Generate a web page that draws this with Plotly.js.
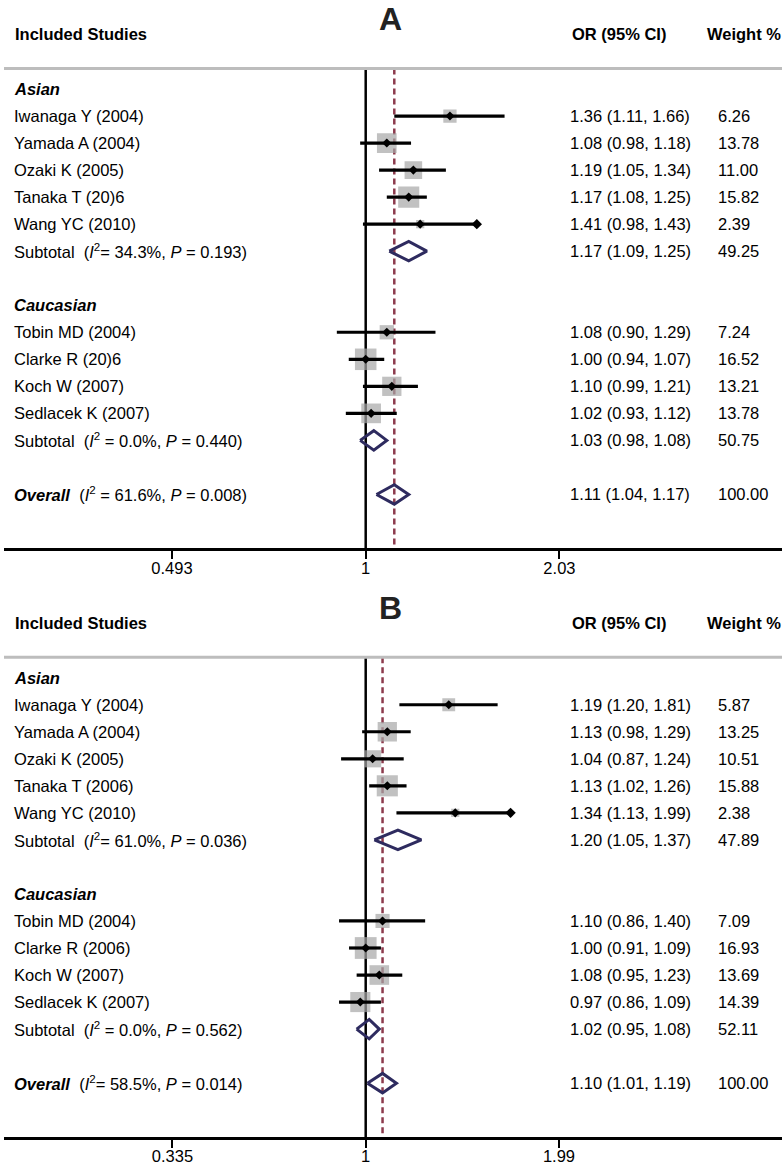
<!DOCTYPE html>
<html><head><meta charset="utf-8">
<script src="https://cdn.plot.ly/plotly-3.0.1.min.js"></script>
<style>html,body{margin:0;padding:0;background:#fff}#chart{width:782px;height:1167px}</style>
</head><body><div id="chart"></div>
<script>
// ===================== DATA =====================
const panelTitles = ['A', 'B'];
const headerCols = ['Included Studies', 'OR (95% CI)', 'Weight %'];
const groupNames = ['Asian', 'Caucasian'];

// ---- Panel A ----
const studiesA_asian = ['Iwanaga Y (2004)', 'Yamada A (2004)', 'Ozaki K (2005)', 'Tanaka T (20)6', 'Wang YC (2010)'];
const orA_asian = [1.36, 1.08, 1.19, 1.17, 1.22];
const loA_asian = [1.11, 0.98, 1.05, 1.08, 0.99];
const hiA_asian = [1.66, 1.18, 1.34, 1.25, 1.50];
const weightA_asian = [6.26, 13.78, 11.00, 15.82, 2.39];
const ciTextA_asian = ['1.36 (1.11, 1.66)', '1.08 (0.98, 1.18)', '1.19 (1.05, 1.34)', '1.17 (1.08, 1.25)', '1.41 (0.98, 1.43)'];
const wTextA_asian = ['6.26', '13.78', '11.00', '15.82', '2.39'];

const studiesA_cauc = ['Tobin MD (2004)', 'Clarke R (20)6', 'Koch W (2007)', 'Sedlacek K (2007)'];
const orA_cauc = [1.08, 1.00, 1.10, 1.02];
const loA_cauc = [0.90, 0.94, 0.99, 0.93];
const hiA_cauc = [1.29, 1.07, 1.21, 1.12];
const weightA_cauc = [7.24, 16.52, 13.21, 13.78];
const ciTextA_cauc = ['1.08 (0.90, 1.29)', '1.00 (0.94, 1.07)', '1.10 (0.99, 1.21)', '1.02 (0.93, 1.12)'];
const wTextA_cauc = ['7.24', '16.52', '13.21', '13.78'];

const subOrA = [1.17, 1.03];
const subLoA = [1.09, 0.98];
const subHiA = [1.25, 1.08];
const subStatA = ['(<i>I</i><sup>2</sup>= 34.3%, <i>P</i> = 0.193)', '(<i>I</i><sup>2</sup> = 0.0%, <i>P</i> = 0.440)'];
const subCiTextA = ['1.17 (1.09, 1.25)', '1.03 (0.98, 1.08)'];
const subWTextA = ['49.25', '50.75'];

const overallA = [1.11, 1.04, 1.17]; // OR, low, high
const overallStatA = '(<i>I</i><sup>2</sup> = 61.6%, <i>P</i> = 0.008)';
const overallCiTextA = '1.11 (1.04, 1.17)';
const overallWTextA = '100.00';
const tickValsA = [0.493, 1, 2.028];
const tickTextA = ['0.493', '1', '2.03'];

// ---- Panel B ----
const studiesB_asian = ['Iwanaga Y (2004)', 'Yamada A (2004)', 'Ozaki K (2005)', 'Tanaka T (2006)', 'Wang YC (2010)'];
const orB_asian = [1.60, 1.13, 1.04, 1.13, 1.66];
const loB_asian = [1.21, 0.98, 0.87, 1.02, 1.19];
const hiB_asian = [2.11, 1.29, 1.24, 1.26, 2.27];
const weightB_asian = [5.87, 13.25, 10.51, 15.88, 2.38];
const ciTextB_asian = ['1.19 (1.20, 1.81)', '1.13 (0.98, 1.29)', '1.04 (0.87, 1.24)', '1.13 (1.02, 1.26)', '1.34 (1.13, 1.99)'];
const wTextB_asian = ['5.87', '13.25', '10.51', '15.88', '2.38'];

const studiesB_cauc = ['Tobin MD (2004)', 'Clarke R (2006)', 'Koch W (2007)', 'Sedlacek K (2007)'];
const orB_cauc = [1.10, 1.00, 1.08, 0.97];
const loB_cauc = [0.86, 0.91, 0.95, 0.86];
const hiB_cauc = [1.40, 1.09, 1.23, 1.09];
const weightB_cauc = [7.09, 16.93, 13.69, 14.39];
const ciTextB_cauc = ['1.10 (0.86, 1.40)', '1.00 (0.91, 1.09)', '1.08 (0.95, 1.23)', '0.97 (0.86, 1.09)'];
const wTextB_cauc = ['7.09', '16.93', '13.69', '14.39'];

const subOrB = [1.20, 1.02];
const subLoB = [1.05, 0.95];
const subHiB = [1.37, 1.08];
const subStatB = ['(<i>I</i><sup>2</sup>= 61.0%, <i>P</i> = 0.036)', '(<i>I</i><sup>2</sup> = 0.0%, <i>P</i> = 0.562)'];
const subCiTextB = ['1.20 (1.05, 1.37)', '1.02 (0.95, 1.08)'];
const subWTextB = ['47.89', '52.11'];

const overallB = [1.10, 1.01, 1.19];
const overallStatB = '(<i>I</i><sup>2</sup>= 58.5%, <i>P</i> = 0.014)';
const overallCiTextB = '1.10 (1.01, 1.19)';
const overallWTextB = '100.00';
const tickValsB = [0.335, 1, 2.985];
const tickTextB = ['0.335', '1', '1.99'];

// Study whose CI end is drawn with an arrow-like marker
const arrowStudy = 'Wang YC (2010)';

// ===================== LAYOUT CONSTANTS =====================
const W = 782, H = 1167;
const FONT = 'Liberation Sans, Arial, Helvetica, sans-serif';
const FS = 16.5;
const px = x => x / W;
const py = y => 1 - y / H;
const PANEL_SHIFT = 588.7;
const TOP_LINE = 68.5, AXIS_LINE = 548.3, ROW0 = 89, PITCH = 27.03;
const X_LEFT = 4, X_ONE = 365.7;
const rowTop = (TOP_LINE - ROW0) / PITCH;
const rowBottom = (AXIS_LINE - ROW0) / PITCH;

const panels = [
  { title: panelTitles[0], pxPerLn: 274, tickVals: tickValsA, tickText: tickTextA,
    groups: [
      { names: studiesA_asian, or: orA_asian, lo: loA_asian, hi: hiA_asian, w: weightA_asian, ci: ciTextA_asian, wt: wTextA_asian,
        sub: [subOrA[0], subLoA[0], subHiA[0]], subStat: subStatA[0], subCi: subCiTextA[0], subW: subWTextA[0] },
      { names: studiesA_cauc, or: orA_cauc, lo: loA_cauc, hi: hiA_cauc, w: weightA_cauc, ci: ciTextA_cauc, wt: wTextA_cauc,
        sub: [subOrA[1], subLoA[1], subHiA[1]], subStat: subStatA[1], subCi: subCiTextA[1], subW: subWTextA[1] }
    ],
    overall: overallA, overallStat: overallStatA, overallCi: overallCiTextA, overallW: overallWTextA },
  { title: panelTitles[1], pxPerLn: 176.7, tickVals: tickValsB, tickText: tickTextB,
    groups: [
      { names: studiesB_asian, or: orB_asian, lo: loB_asian, hi: hiB_asian, w: weightB_asian, ci: ciTextB_asian, wt: wTextB_asian,
        sub: [subOrB[0], subLoB[0], subHiB[0]], subStat: subStatB[0], subCi: subCiTextB[0], subW: subWTextB[0] },
      { names: studiesB_cauc, or: orB_cauc, lo: loB_cauc, hi: hiB_cauc, w: weightB_cauc, ci: ciTextB_cauc, wt: wTextB_cauc,
        sub: [subOrB[1], subLoB[1], subHiB[1]], subStat: subStatB[1], subCi: subCiTextB[1], subW: subWTextB[1] }
    ],
    overall: overallB, overallStat: overallStatB, overallCi: overallCiTextB, overallW: overallWTextB }
];

const traces = [];
const annotations = [];
const shapes = [];
const layout = {
  width: W, height: H, margin: { l: 0, r: 0, t: 0, b: 0 },
  paper_bgcolor: '#fff', plot_bgcolor: 'rgba(0,0,0,0)', showlegend: false,
  font: { family: FONT, size: FS, color: '#000' },
  annotations, shapes
};

const textAnn = (text, x, y, yref, opts = {}) => Object.assign({
  text, x: px(x), y, xref: 'paper', yref, xanchor: 'left', yanchor: 'middle',
  showarrow: false, font: { family: FONT, size: FS, color: '#000' }
}, opts);

panels.forEach((p, k) => {
  const off = k * PANEL_SHIFT;
  const xa = k === 0 ? 'x' : 'x2', ya = k === 0 ? 'y' : 'y2';
  const xKey = k === 0 ? 'xaxis' : 'xaxis2', yKey = k === 0 ? 'yaxis' : 'yaxis2';
  const lnL = (X_LEFT - X_ONE) / p.pxPerLn, lnR = (W - X_ONE) / p.pxPerLn;
  layout[xKey] = {
    domain: [px(X_LEFT), 1], anchor: ya, type: 'log',
    range: [lnL / Math.LN10, lnR / Math.LN10],
    tickmode: 'array', tickvals: p.tickVals, ticktext: p.tickText,
    showline: true, linecolor: '#000', linewidth: 2.5,
    ticks: 'outside', ticklen: 8, tickwidth: 2, tickcolor: '#000',
    ticklabelstandoff: -5,
    showgrid: false, zeroline: false, fixedrange: true,
    tickfont: { family: FONT, size: FS, color: '#000' }
  };
  layout[yKey] = {
    domain: [py(AXIS_LINE + off), py(TOP_LINE + off)], anchor: xa,
    range: [rowBottom, rowTop], visible: false, fixedrange: true
  };

  // title + header
  annotations.push(textAnn('<b>' + p.title + '</b>', 390, py(19 + off), 'paper',
    { xanchor: 'center', font: { family: FONT, size: 32, color: '#222' } }));
  const hdrX = [13, 570, 705];
  headerCols.forEach((h, i) => annotations.push(textAnn('<b>' + h + '</b>', hdrX[i], py(34 + off), 'paper',
    { font: { family: FONT, size: 16.5, color: '#000' } })));
  // grey separator
  shapes.push({ type: 'line', xref: 'paper', yref: 'paper', x0: px(X_LEFT), x1: 1,
    y0: py(TOP_LINE + off), y1: py(TOP_LINE + off), line: { color: '#bdbdbd', width: 3 } });

  // null line at OR = 1
  traces.push({ x: [1, 1], y: [rowTop, rowBottom], xaxis: xa, yaxis: ya, mode: 'lines',
    line: { color: '#000', width: 2.5 }, hoverinfo: 'skip' });
  // overall dashed line
  traces.push({ x: [p.overall[0], p.overall[0]], y: [rowTop, rowBottom], xaxis: xa, yaxis: ya, mode: 'lines',
    line: { color: '#8c3a4c', width: 2.5, dash: '6px,4px' }, hoverinfo: 'skip' });

  const sqX = [], sqY = [], sqS = [], ptX = [], ptY = [], ciX = [], ciY = [], arX = [], arY = [];
  const dmX = [], dmY = [];
  const H_D = 0.36;
  const addDiamond = (v, r) => { dmX.push(v[1], v[0], v[2], v[0], v[1], null); dmY.push(r, r - H_D, r, r + H_D, r, null); };
  let row = 0;
  p.groups.forEach((g, gi) => {
    annotations.push(textAnn('<b><i>' + groupNames[gi] + '</i></b>', 12, row, ya));
    g.names.forEach((n, i) => {
      row += 1;
      ciX.push(g.lo[i], g.hi[i], null); ciY.push(row, row, null);
      sqX.push(g.or[i]); sqY.push(row); sqS.push(5.3 * Math.sqrt(g.w[i]));
      ptX.push(g.or[i]); ptY.push(row);
      if (n === arrowStudy) { arX.push(g.hi[i]); arY.push(row); }
      annotations.push(textAnn(n, 12, row, ya));
      annotations.push(textAnn(g.ci[i], 568, row, ya));
      annotations.push(textAnn(g.wt[i], 716, row, ya));
    });
    row += 1;
    addDiamond(g.sub, row);
    annotations.push(textAnn('Subtotal\u00a0\u00a0' + g.subStat, 12, row, ya));
    annotations.push(textAnn(g.subCi, 568, row, ya));
    annotations.push(textAnn(g.subW, 716, row, ya));
    row += 2;
  });
  addDiamond(p.overall, row);
  annotations.push(textAnn('<b><i>Overall</i></b>\u00a0\u00a0' + p.overallStat, 12, row, ya));
  annotations.push(textAnn(p.overallCi, 568, row, ya));
  annotations.push(textAnn(p.overallW, 716, row, ya));

  traces.push({ x: sqX, y: sqY, xaxis: xa, yaxis: ya, mode: 'markers',
    marker: { symbol: 'square', size: sqS, color: '#a6a6a6', line: { width: 0 } }, hoverinfo: 'skip' });
  traces.push({ x: ciX, y: ciY, xaxis: xa, yaxis: ya, mode: 'lines',
    line: { color: '#000', width: 3.2 }, hoverinfo: 'skip' });
  traces.push({ x: ptX, y: ptY, xaxis: xa, yaxis: ya, mode: 'markers',
    marker: { symbol: 'diamond', size: 7, color: '#000' }, hoverinfo: 'skip' });
  traces.push({ x: arX, y: arY, xaxis: xa, yaxis: ya, mode: 'markers',
    marker: { symbol: 'diamond', size: 8, color: '#000' }, hoverinfo: 'skip' });
  traces.push({ x: dmX, y: dmY, xaxis: xa, yaxis: ya, mode: 'lines',
    line: { color: '#2e2b5f', width: 3 }, hoverinfo: 'skip' });
});

Plotly.newPlot('chart', traces, layout, { displayModeBar: false, staticPlot: true });
</script>
</body></html>
